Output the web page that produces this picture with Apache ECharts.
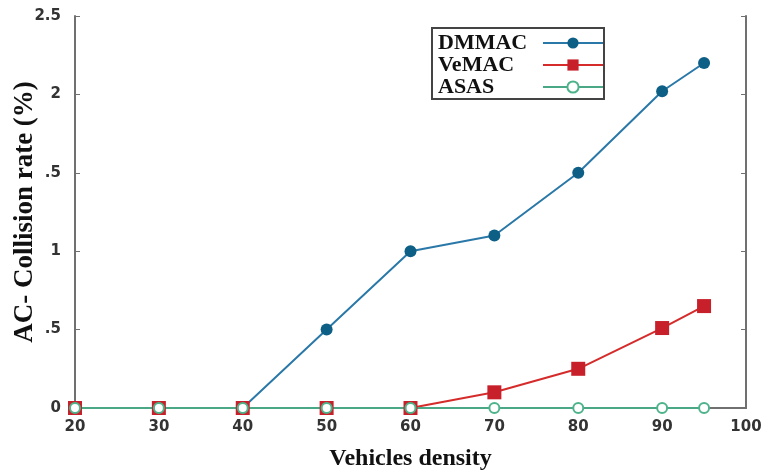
<!DOCTYPE html>
<html><head><meta charset="utf-8">
<script src="https://cdn.jsdelivr.net/npm/echarts@6/dist/echarts.min.js"></script>
<style>html,body{margin:0;padding:0;background:#fff}#c{width:768px;height:473px}</style>
</head><body><div id="c"></div>
<script>
const xValues = [20, 30, 40, 50, 60, 70, 80, 90, 95];
const dmmac = [0, 0, 0, 0.5, 1.0, 1.1, 1.5, 2.02, 2.2];
const vemac = [0, 0, 0, 0, 0, 0.1, 0.25, 0.51, 0.65];
const asas = [0, 0, 0, 0, 0, 0, 0, 0, 0];
const yTickLabels = {0: '0', 0.5: '.5', 1: '1', 1.5: '.5', 2: '2', 2.5: '2.5'};
const yTitle = 'AC- Collision rate (%)';

const pairs = arr => xValues.map((x, i) => [x, arr[i]]);
const chart = echarts.init(document.getElementById('c'));
const axisGray = '#707070';
chart.setOption({
  animation: false,
  grid: {left: 75, right: 22, top: 16, bottom: 65, containLabel: false, outerBoundsMode: 'none'},
  graphic: [{
    type: 'text', x: 25, y: 212, rotation: Math.PI / 2,
    style: {text: yTitle, fontFamily: 'Liberation Serif', fontWeight: 'bold', fontSize: 27, fill: '#111',
      textAlign: 'center', textVerticalAlign: 'middle'}
  }],
  legend: {
    top: 28, left: 432,
    orient: 'vertical', align: 'right',
    itemWidth: 60, itemHeight: 14, itemGap: 0,
    padding: [4, 0, 1, 6],
    borderColor: '#444', borderWidth: 2,
    formatter: n => '{a|' + n + '}',
    textStyle: {
      rich: {a: {fontFamily: 'Liberation Serif', fontWeight: 'bold', fontSize: 22, color: '#111', width: 100, align: 'left', lineHeight: 21}}
    },
    data: ['DMMAC', 'VeMAC', 'ASAS']
  },
  xAxis: [{
    type: 'value', min: 20, max: 100, interval: 10,
    axisLine: {lineStyle: {color: axisGray, width: 2}},
    axisTick: {show: false},
    splitLine: {show: false},
    axisLabel: {color: '#333', fontFamily: 'DejaVu Sans', fontWeight: 'bold', fontSize: 15, margin: 12},
    name: 'Vehicles density', nameLocation: 'middle', nameGap: 39,
    nameTextStyle: {fontFamily: 'Liberation Serif', fontWeight: 'bold', fontSize: 24, color: '#111'}
  }, {
    type: 'value', position: 'top', min: 20, max: 100, interval: 10,
    axisLine: {show: true, lineStyle: {color: axisGray, width: 2}},
    axisTick: {show: false}, axisLabel: {show: false}, splitLine: {show: false}
  }],
  yAxis: [{
    type: 'value', min: 0, max: 2.5, interval: 0.5,
    axisLine: {show: true, lineStyle: {color: axisGray, width: 2}},
    axisTick: {show: true, inside: true, length: 5, lineStyle: {color: axisGray}},
    splitLine: {show: false},
    axisLabel: {color: '#333', fontFamily: 'DejaVu Sans', fontWeight: 'bold', fontSize: 15, margin: 14,
      formatter: v => yTickLabels[v] !== undefined ? yTickLabels[v] : String(v)}
  }, {
    type: 'value', position: 'right', min: 0, max: 2.5, interval: 0.5,
    axisLine: {show: true, lineStyle: {color: axisGray, width: 2}},
    axisTick: {show: true, inside: true, length: 5, lineStyle: {color: axisGray}},
    axisLabel: {show: false}, splitLine: {show: false}
  }],
  series: [{
    name: 'DMMAC', type: 'line', data: pairs(dmmac),
    symbol: 'circle', symbolSize: 12,
    lineStyle: {color: '#2a78a8', width: 2},
    itemStyle: {color: '#0e5f86'}
  }, {
    name: 'VeMAC', type: 'line', data: pairs(vemac),
    symbol: 'rect', symbolSize: 14,
    lineStyle: {color: '#d52b2b', width: 2},
    itemStyle: {color: '#c8202a'}
  }, {
    name: 'ASAS', type: 'line', data: pairs(asas),
    symbol: 'emptyCircle', symbolSize: 10,
    lineStyle: {color: '#4aa886', width: 2},
    itemStyle: {color: '#4db38a', borderWidth: 2}
  }]
});
</script></body></html>
